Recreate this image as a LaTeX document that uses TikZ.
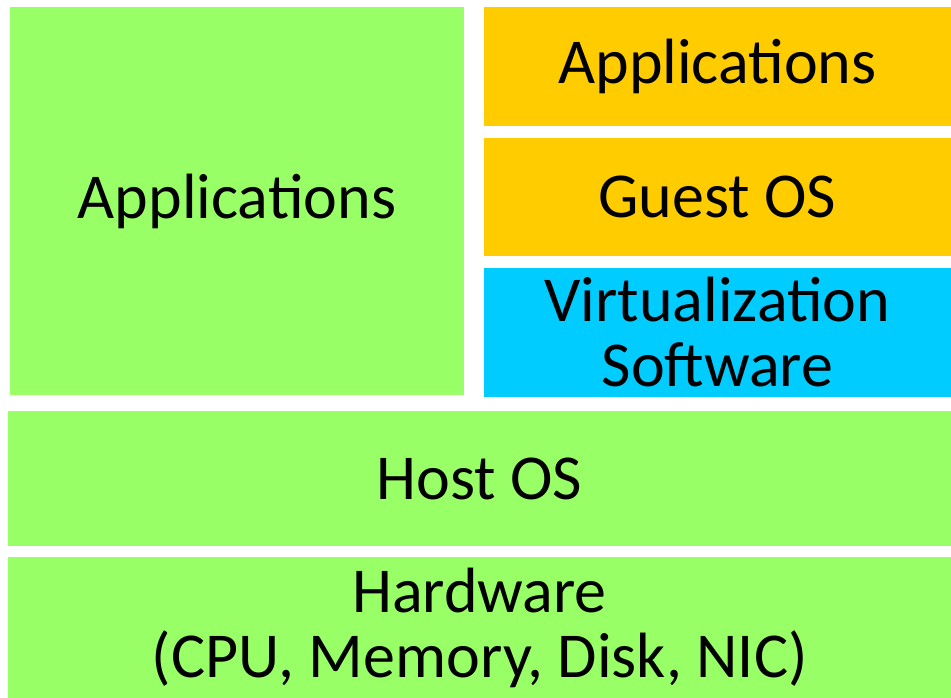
\documentclass[tikz,border=0pt]{standalone}
\usepackage{fontspec}
\setmainfont{Carlito}
\definecolor{lgreen}{HTML}{99FF66}
\definecolor{lorange}{HTML}{FFCC00}
\definecolor{lcyan}{HTML}{00CCFF}
\tikzset{
  layer/.style={draw=none, inner sep=0pt, outer sep=0pt, align=center,
    font=\fontsize{64}{65}\selectfont, text=black},
}
\begin{document}
\begin{tikzpicture}[x=1pt,y=-1pt]
\useasboundingbox (0,0) rectangle (951,698);
\fill[white] (0,0) rectangle (951,698);
\node[layer, fill=lgreen, minimum width=454pt, minimum height=388pt] (apps) at (237,201) {Applications};
\node[layer, fill=lorange, minimum width=467pt, minimum height=119pt] (vapps) at (717.5,66.5) {Applications};
\node[layer, fill=lorange, minimum width=467pt, minimum height=118pt] (guest) at (717.5,197) {Guest OS};
\node[layer, fill=lcyan, minimum width=467pt, minimum height=129pt] (virt) at (717.5,332.5) {Virtualization\\Software};
\node[layer, fill=lgreen, minimum width=943pt, minimum height=135pt] (host) at (479.5,478.5) {Host OS};
\node[layer, fill=lgreen, minimum width=943pt, minimum height=141pt] (hw) at (479.5,627.5) {Hardware\\(CPU, Memory, Disk, NIC)};
\end{tikzpicture}
\end{document}
